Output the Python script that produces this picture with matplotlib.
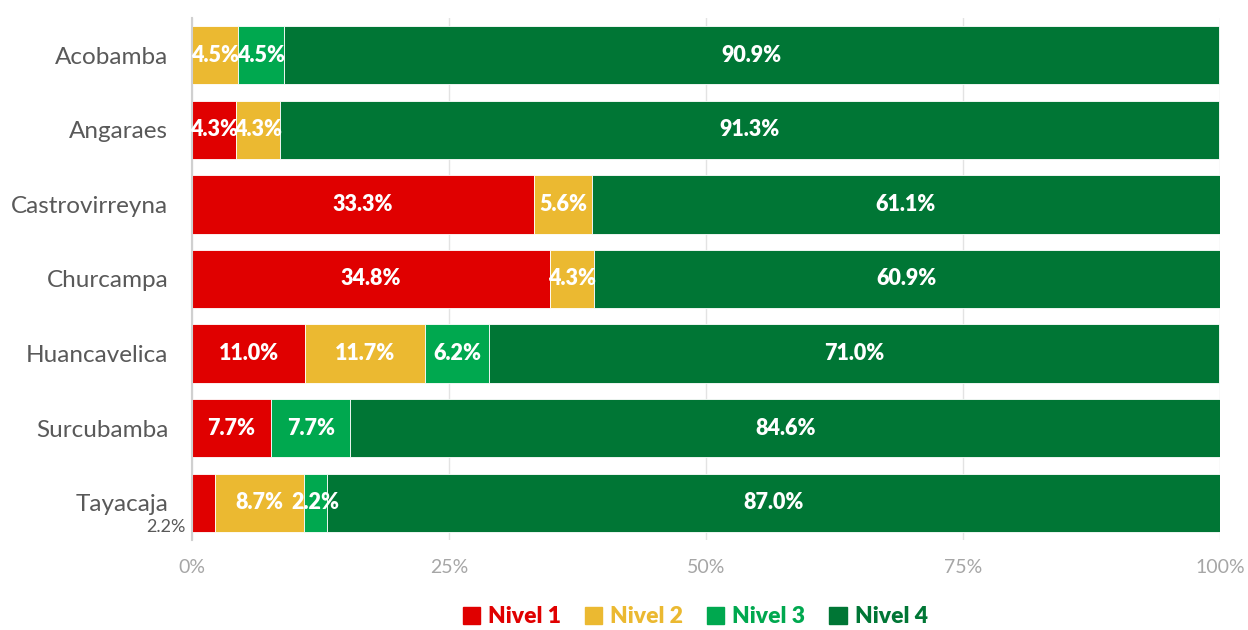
import numpy as np
import matplotlib.pyplot as plt
from matplotlib.patches import Patch
from matplotlib.transforms import blended_transform_factory

plt.rcParams['font.family'] = ['Lato', 'DejaVu Sans']

provincias = ['Acobamba', 'Angaraes', 'Castrovirreyna', 'Churcampa',
              'Huancavelica', 'Surcubamba', 'Tayacaja']
niveles = ['Nivel 1', 'Nivel 2', 'Nivel 3', 'Nivel 4']
nivel1 = [0.0, 4.3, 33.3, 34.8, 11.0, 7.7, 2.2]
nivel2 = [4.5, 4.3, 5.6, 4.3, 11.7, 0.0, 8.7]
nivel3 = [4.5, 0.0, 0.0, 0.0, 6.2, 7.7, 2.2]
nivel4 = [90.9, 91.3, 61.1, 60.9, 71.0, 84.6, 87.0]
colores = ['#E00000', '#EBB931', '#00A84F', '#007635']
xticks = [0, 25, 50, 75, 100]

fig = plt.figure(figsize=(12.48, 6.3), dpi=100)
ax = fig.add_axes([0.1538, 0.1429, 0.8238, 0.8285])

y = np.arange(len(provincias))
left = np.zeros(len(provincias))
for nombre, vals, col in zip(niveles, [nivel1, nivel2, nivel3, nivel4], colores):
    vals = np.array(vals)
    ax.barh(y, vals, left=left, height=0.78, color=col, edgecolor='white',
            linewidth=0.6, zorder=2)
    for i, v in enumerate(vals):
        if v <= 0:
            continue
        if v < 3 and left[i] == 0:
            # too thin: label goes outside, under the category name
            tr = blended_transform_factory(ax.transAxes, ax.transData)
            ax.text(-0.006, y[i] + 0.32, f'{v:.1f}%', transform=tr,
                    ha='right', va='center', fontsize=13, color='#595959')
        else:
            ax.text(left[i] + v / 2, y[i], f'{v:.1f}%', ha='center',
                    va='center', fontsize=15.5, fontweight='heavy',
                    color='white', zorder=3)
    left += vals

ax.set_xlim(0, 100)
ax.set_ylim(len(provincias) - 0.5, -0.5)
ax.set_yticks(y)
ax.set_yticklabels(provincias, fontsize=17.5, color='#595959')
ax.tick_params(axis='both', length=0)
ax.set_xticks(xticks)
ax.set_xticklabels([f'{t}%' for t in xticks], fontsize=14, color='#A6A6A6')
ax.tick_params(axis='y', pad=17)
ax.tick_params(axis='x', pad=14)
ax.grid(axis='x', color='#E3E3E3', linewidth=1, zorder=0)
for s in ['top', 'right', 'bottom']:
    ax.spines[s].set_visible(False)
ax.spines['left'].set_color('#D0D0D0')
ax.spines['left'].set_linewidth(1.5)

handles = [Patch(facecolor=c, edgecolor=c) for c in colores]
fig.legend(handles, niveles, loc='center', bbox_to_anchor=(0.557, 0.021),
           ncol=4, frameon=False, labelcolor=colores,
           prop={'weight': 'heavy', 'size': 16.5}, handlelength=0.75,
           handleheight=0.75, handletextpad=0.35, columnspacing=1.05)

fig.savefig('out.png', dpi=100)
